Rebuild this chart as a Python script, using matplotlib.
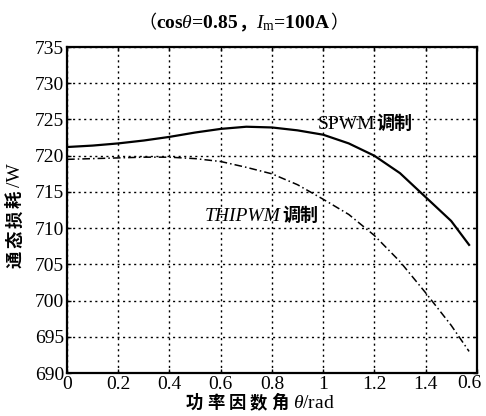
import matplotlib
matplotlib.use('Agg')
import matplotlib.pyplot as plt
from matplotlib.offsetbox import TextArea, HPacker, AnnotationBbox

plt.rcParams['mathtext.fontset'] = 'custom'
plt.rcParams['mathtext.rm'] = 'Liberation Serif'
plt.rcParams['mathtext.it'] = 'Liberation Serif:italic'
plt.rcParams['mathtext.bf'] = 'Liberation Serif:bold'

SERIF = 'Liberation Serif'
CJK = 'Noto Sans CJK SC'

# ---- data ----
theta = [0.0, 0.1, 0.2, 0.3, 0.4, 0.5, 0.6, 0.7, 0.8, 0.9, 1.0, 1.1, 1.2, 1.3, 1.4, 1.5, 1.57]
loss_spwm = [721.2, 721.4, 721.7, 722.1, 722.6, 723.2, 723.7, 724.0, 723.9, 723.5,
             722.9, 721.7, 720.0, 717.6, 714.3, 711.0, 707.7]
loss_thipwm = [719.5, 719.6, 719.7, 719.8, 719.8, 719.6, 719.2, 718.4, 717.5, 716.0,
               714.0, 711.9, 709.0, 705.4, 701.1, 696.6, 693.0]
xticks = [0, 0.2, 0.4, 0.6, 0.8, 1.0, 1.2, 1.4, 1.6]
xtick_labels = ['0', '0.2', '0.4', '0.6', '0.8', '1', '1.2', '1.4', '0.6']
yticks = [690, 695, 700, 705, 710, 715, 720, 725, 730, 735]
ytick_labels = ['690', '695', '700', '705', '710', '715', '720', '725', '730', '735']
title_parts = ['（', r'cos$\theta$=0.85', '，', r'$I_{\mathrm{m}}$=100A', '）']
xlabel_cn = '功率因数角'
xlabel_latin = r'$\theta$/rad'
ylabel_cn = '通态损耗'
ylabel_latin = '/W'

fig = plt.figure(figsize=(4.86, 4.16), dpi=100)
ax = fig.add_axes([0.138, 0.103, 0.843, 0.784])

ax.plot(theta, loss_spwm, color='black', lw=1.6, ls='-')
ax.plot(theta, loss_thipwm, color='black', lw=1.1, ls=(0, (5, 2, 1, 2)))

ax.set_xlim(0, 1.6)
ax.set_ylim(690, 735)
ax.set_xticks(xticks)
# the last label sits at the right edge; draw it separately, nudged inward
ax.set_xticklabels(xtick_labels[:-1] + [''], fontfamily=SERIF, fontsize=14)
ax.annotate(xtick_labels[-1], xy=(xticks[-1], 690), xycoords='data',
            xytext=(-5.5, -1.5), textcoords='offset points', ha='center', va='top',
            family=SERIF, fontsize=14, annotation_clip=False)
ax.set_yticks(yticks)
ax.set_yticklabels(ytick_labels, fontfamily=SERIF, fontsize=14)
ax.tick_params(direction='in', top=True, right=True, length=3, width=1, pad=2)
ax.grid(True, color='black', ls=(0, (1.5, 2.5)), lw=1.0)
for s in ax.spines.values():
    s.set_linewidth(1.6)

# annotations
def label_box(parts, sep=1):
    return HPacker(children=parts, align='baseline', pad=0, sep=sep)

spwm_box = label_box([
    TextArea('SPWM', textprops=dict(family=SERIF, size=14)),
    TextArea('调制', textprops=dict(family=CJK, weight='bold', size=13)),
])
ax.add_artist(AnnotationBbox(spwm_box, (0.979, 724.4), xycoords='data',
                             box_alignment=(0, 0.5), frameon=False, pad=0))
thi_box = label_box([
    TextArea('THIPWM', textprops=dict(family=SERIF, style='italic', size=14)),
    TextArea('调制', textprops=dict(family=CJK, weight='bold', size=13)),
])
ax.add_artist(AnnotationBbox(thi_box, (0.538, 711.7), xycoords='data',
                             box_alignment=(0, 0.5), frameon=False, pad=0))

# title
title_box = HPacker(children=[
    TextArea(title_parts[0], textprops=dict(family=CJK, size=13)),
    TextArea(title_parts[1], textprops=dict(family=SERIF, weight='bold', size=14)),
    TextArea(title_parts[2], textprops=dict(family=CJK, weight='bold', size=13)),
    TextArea(title_parts[3], textprops=dict(family=SERIF, weight='bold', size=14)),
    TextArea(title_parts[4], textprops=dict(family=CJK, size=13)),
], align='baseline', pad=0, sep=0)
fig.add_artist(AnnotationBbox(title_box, (0.5, 0.945), xycoords='figure fraction',
                              box_alignment=(0.5, 0.5), frameon=False, pad=0))

# x label
xl_box = HPacker(children=[TextArea(ch, textprops=dict(family=CJK, weight='bold', size=12.5))
                           for ch in xlabel_cn] +
                 [TextArea(xlabel_latin, textprops=dict(family=SERIF, size=14))],
                 align='baseline', pad=0, sep=3)
fig.add_artist(AnnotationBbox(xl_box, (0.535, 0.031), xycoords='figure fraction',
                              box_alignment=(0.5, 0.5), frameon=False, pad=0))

# y label (rotated, read bottom to top)
y0 = 1 - 268 / 416
step = 20 / 416
for i, ch in enumerate(ylabel_cn):
    fig.text(0.031, y0 + i * step, ch, rotation=90, ha='center', va='bottom',
             family=CJK, weight='bold', fontsize=12.5)
fig.text(0.031, y0 + len(ylabel_cn) * step + 1 / 416, ylabel_latin, rotation=90,
         ha='center', va='bottom', family=SERIF, fontsize=14)

fig.savefig('out.png', dpi=100)
